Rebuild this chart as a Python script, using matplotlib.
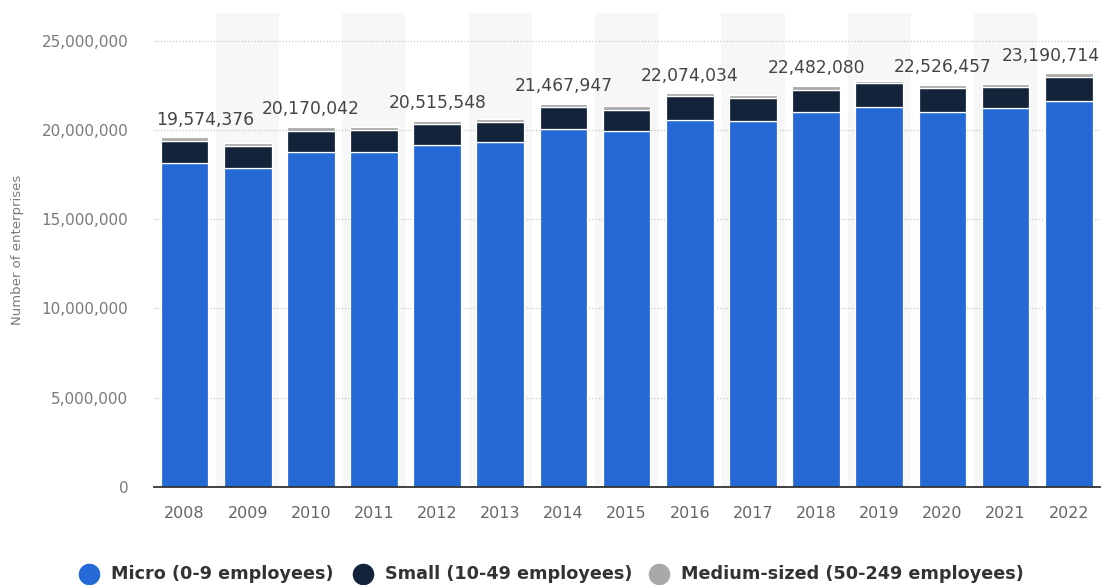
import matplotlib
matplotlib.use("Agg")
import matplotlib.pyplot as plt
from matplotlib.lines import Line2D
from matplotlib.ticker import FuncFormatter, MultipleLocator
import numpy as np

years = ["2008", "2009", "2010", "2011", "2012", "2013", "2014", "2015",
         "2016", "2017", "2018", "2019", "2020", "2021", "2022"]

micro = [18_130_000, 17_880_000, 18_760_000, 18_760_000, 19_160_000, 19_300_000,
         20_050_000, 19_950_000, 20_580_000, 20_470_000, 21_000_000, 21_280_000,
         21_000_000, 21_200_000, 21_630_000]
small = [1_250_000, 1_220_000, 1_170_000, 1_220_000, 1_150_000, 1_160_000,
         1_220_000, 1_160_000, 1_300_000, 1_310_000, 1_250_000, 1_320_000,
         1_320_000, 1_230_000, 1_330_000]
medium = [194_376, 160_000, 240_042, 170_000, 205_548, 160_000,
          197_947, 240_000, 194_034, 180_000, 232_080, 140_000,
          206_457, 160_000, 230_714]

series_names = ["Micro (0-9 employees)", "Small (10-49 employees)",
                "Medium-sized (50-249 employees)"]
colors = ["#2469d6", "#12233a", "#a9a9a9"]

# totals shown above every other bar
labelled = [0, 2, 4, 6, 8, 10, 12, 14]

W, H = 1109, 585
fig = plt.figure(figsize=(W / 100, H / 100), dpi=100)
ax = fig.add_axes([0.1389, 0.168, 0.9919 - 0.1389, 0.9778 - 0.168])

x = np.arange(len(years))
micro_a = np.array(micro)
small_a = np.array(small)
medium_a = np.array(medium)
totals = micro_a + small_a + medium_a

# alternating column shading
for i in x:
    if i % 2 == 1:
        ax.axvspan(i - 0.5, i + 0.5, color="#f7f7f7", zorder=0, lw=0)

width = 0.755
ax.bar(x, micro_a, width, color=colors[0], edgecolor="white", linewidth=0.9, zorder=3)
ax.bar(x, small_a, width, bottom=micro_a, color=colors[1], edgecolor="white",
       linewidth=0.9, zorder=3)
ax.bar(x, medium_a, width, bottom=micro_a + small_a, color=colors[2],
       edgecolor="white", linewidth=0.9, zorder=3)

xmin, xmax = -0.483, 14.495
ax.set_xlim(xmin, xmax)
ax.set_ylim(0, 26_550_000)

for i in labelled:
    txt = f"{totals[i]:,}"
    if i == 0:
        xpos, ha = xmin + 0.03, "left"
    elif i == len(years) - 1:
        xpos, ha = xmax, "right"
    else:
        xpos, ha = i, "center"
    ax.annotate(txt, (xpos, totals[i]), xytext=(0, 6), textcoords="offset points",
                ha=ha, va="bottom", fontsize=12.3, color="#444444", zorder=5)

ax.yaxis.set_major_locator(MultipleLocator(5_000_000))
ax.yaxis.set_major_formatter(FuncFormatter(lambda v, p: f"{int(v):,}"))
ax.grid(axis="y", linestyle=(0, (1, 1.5)), color="#c8c8c8", linewidth=0.9, zorder=1)
ax.set_axisbelow(True)

ax.set_xticks(x)
ax.set_xticklabels(years)
ax.tick_params(axis="x", length=0, pad=14, labelsize=11.5, labelcolor="#666666")
ax.tick_params(axis="y", length=0, pad=18.5, labelsize=11, labelcolor="#7a7a7a")

for side in ["top", "right", "left"]:
    ax.spines[side].set_visible(False)
ax.spines["bottom"].set_color("#333333")
ax.spines["bottom"].set_linewidth(1.3)
ax.spines["bottom"].set_zorder(6)

ax.set_ylabel("Number of enterprises", fontsize=9.5, color="#7a7a7a")
ax.yaxis.set_label_coords(-0.137, 0.5)

# legend row beneath the chart
marker_x = [89, 363, 659]
text_x = [111, 385, 681]
leg_y = 1 - 574 / H
for mx, tx, c, name in zip(marker_x, text_x, colors, series_names):
    fig.add_artist(Line2D([mx / W], [leg_y], marker="o", linestyle="none",
                          markersize=14.5, markerfacecolor=c, markeredgecolor=c,
                          transform=fig.transFigure))
    fig.text(tx / W, leg_y, name, ha="left", va="center", fontsize=12.7,
             fontweight="bold", color="#333333")

fig.savefig("out.png", dpi=100)
